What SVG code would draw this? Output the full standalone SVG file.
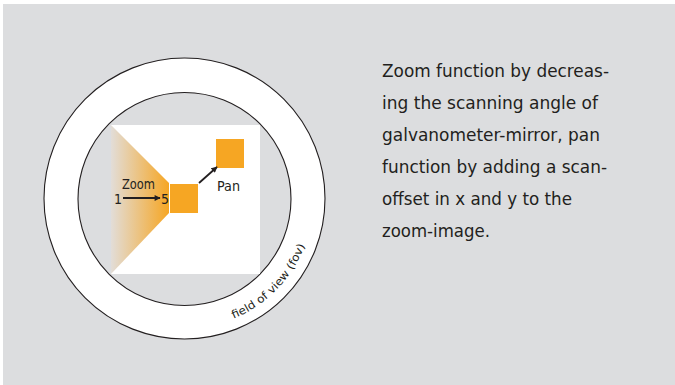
<svg xmlns="http://www.w3.org/2000/svg" width="675" height="385" viewBox="0 0 675 385">
<style>
.lbl{font-family:"Liberation Sans Narrow","DejaVu Sans Condensed","Liberation Sans",sans-serif;fill:#231f20}
.para{font-family:"Liberation Sans Narrow","DejaVu Sans Condensed","Liberation Sans",sans-serif;font-size:18px;fill:#231f20}
.ring{fill:none;stroke:#231f20;stroke-width:1.1}
.orange{fill:#f6a623}
.arr{stroke:#231f20;stroke-width:1.8;fill:none;marker-end:url(#ah)}
</style>
<defs>
<linearGradient id="zg" x1="0" y1="0" x2="1" y2="0">
<stop offset="0" stop-color="#e2ddd8"/>
<stop offset="1" stop-color="#f6a623"/>
</linearGradient>
<marker id="ah" viewBox="0 0 10 10" refX="9" refY="5" markerWidth="7" markerHeight="6" orient="auto" markerUnits="userSpaceOnUse">
<path d="M0,0 L10,5 L0,10 Z" fill="#231f20"/>
</marker>
<path id="fovpath" d="M206.8,326.5 A129 129 0 0 0 313,209.7"/>
</defs>
<rect x="3" y="4" width="672" height="381" fill="#dcdddf"/>
<g id="fov-ring">
<circle cx="184.5" cy="198.5" r="140.5" class="ring" style="fill:#fff"/>
<circle cx="184.5" cy="199" r="106.5" class="ring" style="fill:#dcdddf"/>
<text class="lbl" font-size="11"><textPath href="#fovpath" startOffset="28" textLength="105" lengthAdjust="spacingAndGlyphs">field of view (fov)</textPath></text>
</g>
<g id="scan-area">
<rect x="111" y="125" width="149" height="149" fill="#ffffff"/>
<polygon points="111,125 169,183 169,213 111,274" fill="url(#zg)"/>
</g>
<g id="zoom-square">
<rect x="170" y="184" width="28" height="29" class="orange"/>
</g>
<g id="pan-square">
<rect x="216" y="139" width="28" height="29" class="orange"/>
</g>
<g id="connectors">
<line x1="123" y1="198" x2="160" y2="198" class="arr"/>
<line x1="199" y1="183" x2="217" y2="167" class="arr"/>
</g>
<g id="labels">
<text class="lbl" x="122" y="189" font-size="14" textLength="33" lengthAdjust="spacingAndGlyphs">Zoom</text>
<text class="lbl" x="114" y="204" font-size="14">1</text>
<text class="lbl" x="161" y="204" font-size="14">5</text>
<text class="lbl" x="217" y="191" font-size="14" textLength="23" lengthAdjust="spacingAndGlyphs">Pan</text>
</g>
<g id="description">
<text class="para" x="382" y="77" textLength="227" lengthAdjust="spacingAndGlyphs">Zoom function by decreas-</text>
<text class="para" x="382" y="109" textLength="216" lengthAdjust="spacingAndGlyphs">ing the scanning angle of</text>
<text class="para" x="382" y="141" textLength="218" lengthAdjust="spacingAndGlyphs">galvanometer-mirror, pan</text>
<text class="para" x="382" y="173" textLength="225" lengthAdjust="spacingAndGlyphs">function by adding a scan-</text>
<text class="para" x="382" y="205" textLength="190" lengthAdjust="spacingAndGlyphs">offset in x and y to the</text>
<text class="para" x="382" y="237" textLength="108" lengthAdjust="spacingAndGlyphs">zoom-image.</text>
</g>
</svg>
